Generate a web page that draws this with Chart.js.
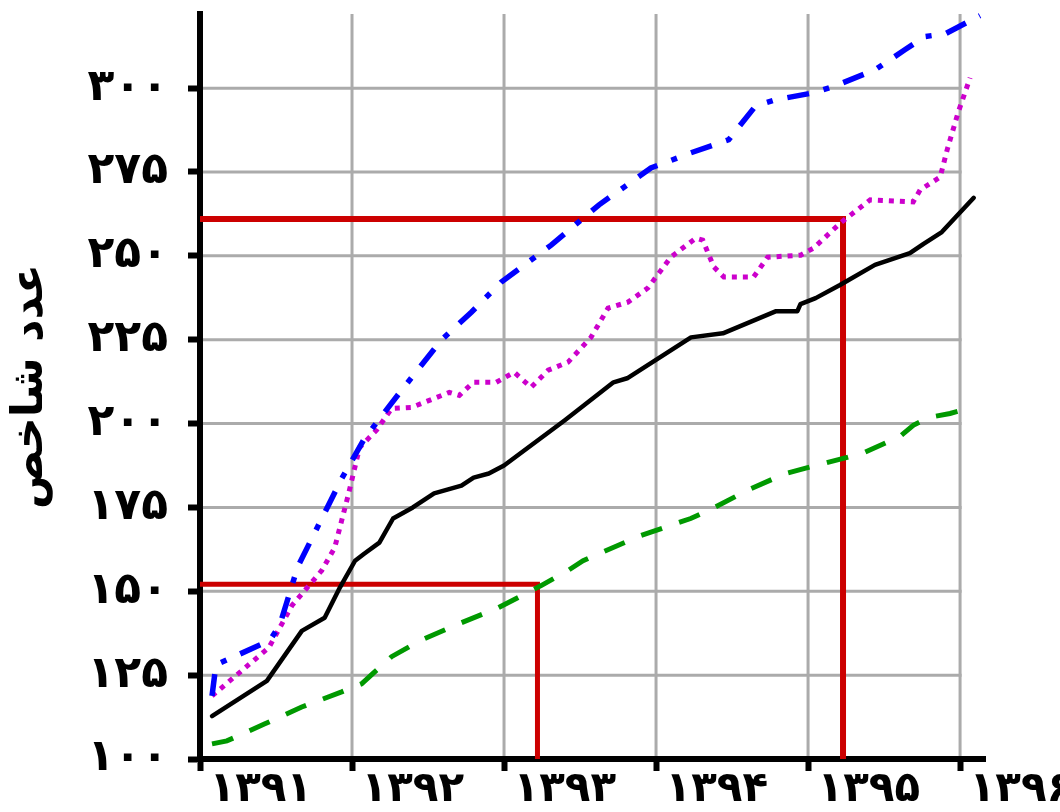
<!DOCTYPE html>
<html>
<head>
<meta charset="utf-8">
<script src="https://cdn.jsdelivr.net/npm/chart.js@4.4.1/dist/chart.umd.min.js"></script>
<style>
  html, body { margin: 0; padding: 0; background: #ffffff; }
  #wrap { width: 1060px; height: 812px; }
</style>
</head>
<body>
<div id="wrap"><canvas id="c" width="1060" height="812"></canvas></div>
<script>
// ---- tick labels ----
const xYears = [1391, 1392, 1393, 1394, 1395, 1396];
const xYearLabels = ['۱۳۹۱', '۱۳۹۲', '۱۳۹۳', '۱۳۹۴', '۱۳۹۵', '۱۳۹۶'];
const yTickValues = [100, 125, 150, 175, 200, 225, 250, 275, 300];
const yTickLabels = ['۱۰۰', '۱۲۵', '۱۵۰', '۱۷۵', '۲۰۰', '۲۲۵', '۲۵۰', '۲۷۵', '۳۰۰'];
const yTitle = 'عدد شاخص';

// ---- series (time in years, index value) ----
const blackYears = [1391.079, 1391.44, 1391.67, 1391.82, 1391.92, 1392.02, 1392.08, 1392.18, 1392.27, 1392.40, 1392.54, 1392.72, 1392.80, 1392.90, 1393.00, 1393.40, 1393.72, 1393.81, 1394.23, 1394.44, 1394.79, 1394.93, 1394.95, 1395.05, 1395.21, 1395.44, 1395.67, 1395.76, 1395.88, 1396.09];
const blackValues = [112.8, 123.3, 138.2, 142.1, 151.1, 159.1, 161.2, 164.5, 171.7, 175.0, 179.2, 181.5, 183.9, 185.1, 187.5, 201.0, 212.3, 213.5, 225.7, 226.9, 233.5, 233.5, 235.6, 237.4, 241.3, 247.3, 250.8, 253.6, 257.1, 267.3];

const blueYears = [1391.079, 1391.105, 1391.459, 1391.525, 1391.643, 1391.932, 1392.083, 1392.325, 1392.588, 1392.785, 1392.982, 1393.310, 1393.625, 1393.966, 1394.228, 1394.478, 1394.556, 1394.655, 1394.786, 1395.035, 1395.180, 1395.442, 1395.639, 1395.770, 1395.902, 1396.131];
const blueValues = [118.8, 128.1, 135.3, 140.0, 157.3, 183.6, 195.6, 209.9, 224.9, 233.2, 242.2, 253.2, 265.2, 276.2, 280.7, 284.6, 289.1, 294.7, 296.5, 298.6, 300.7, 305.5, 311.5, 315.4, 316.2, 321.6];

const magentaYears = [1391.079, 1391.453, 1391.604, 1391.801, 1391.886, 1391.978, 1392.050, 1392.161, 1392.260, 1392.391, 1392.640, 1392.706, 1392.798, 1392.949, 1393.067, 1393.178, 1393.290, 1393.421, 1393.572, 1393.684, 1393.815, 1393.946, 1394.097, 1394.262, 1394.307, 1394.380, 1394.446, 1394.642, 1394.734, 1394.951, 1395.036, 1395.213, 1395.409, 1395.692, 1395.738, 1395.869, 1395.915, 1395.987, 1396.066];
const magentaValues = [118.8, 133.2, 145.7, 156.2, 163.0, 179.2, 192.9, 198.0, 204.5, 204.8, 209.3, 208.4, 212.3, 212.3, 215.3, 210.8, 215.9, 218.3, 225.7, 234.4, 236.2, 240.4, 249.6, 255.3, 254.7, 246.7, 243.7, 243.7, 249.6, 250.2, 252.3, 259.8, 266.7, 266.1, 269.7, 273.5, 281.6, 292.7, 303.1];

const greenYears = [1391.079, 1391.177, 1391.427, 1391.669, 1391.932, 1392.063, 1392.142, 1392.260, 1392.457, 1392.719, 1392.962, 1393.244, 1393.421, 1393.520, 1393.638, 1393.900, 1394.228, 1394.373, 1394.609, 1394.852, 1395.101, 1395.357, 1395.606, 1395.692, 1395.803, 1395.934, 1396.079];
const greenValues = [104.5, 105.4, 110.5, 115.5, 120.0, 122.4, 125.7, 130.5, 135.5, 140.6, 145.1, 151.7, 156.2, 159.1, 161.5, 166.6, 171.7, 174.7, 180.3, 185.1, 188.1, 191.1, 196.2, 199.5, 201.9, 203.0, 204.8];

// red guide lines: [x-start, corner x], [level, axis base]
const guideHighYears = [1391, 1395.23, 1395.23];
const guideHighValues = [261.0, 261.0, 100];
const guideLowYears = [1391, 1393.22, 1393.22];
const guideLowValues = [152.1, 152.1, 100];

const X_MIN = 1391, X_MAX = 1396.164, Y_MIN = 100, Y_MAX = 322.1;

function pts(xs, ys) { return xs.map((x, i) => ({ x: x, y: ys[i] })); }

const FONT = "'DejaVu Sans', 'Noto Sans', sans-serif";

const gridPlugin = {
  id: 'gridPlugin',
  beforeDraw(chart) {
    const { ctx, chartArea } = chart;
    const xs = chart.scales.x, ys = chart.scales.y;
    ctx.save();
    ctx.strokeStyle = '#ababab';
    ctx.lineWidth = 3;
    const xl = xs.getPixelForValue(xYears[0]);
    const xr = xs.getPixelForValue(xYears[xYears.length - 1]);
    yTickValues.slice(1).forEach(v => {
      const y = ys.getPixelForValue(v);
      ctx.beginPath(); ctx.moveTo(xl, y); ctx.lineTo(xr + 1.5, y); ctx.stroke();
    });
    xYears.slice(1).forEach(v => {
      const x = xs.getPixelForValue(v);
      ctx.beginPath(); ctx.moveTo(x, chartArea.top); ctx.lineTo(x, chartArea.bottom); ctx.stroke();
    });
    ctx.restore();
  },
  afterDraw(chart) {
    const { ctx, chartArea } = chart;
    const xs = chart.scales.x;
    ctx.save();
    ctx.fillStyle = '#000';
    ctx.font = "bold 42px " + FONT;
    ctx.textAlign = 'center';
    ctx.textBaseline = 'alphabetic';
    xYearLabels.forEach((lab, i) => {
      const x = xs.getPixelForValue(xYears[i] + 0.4);
      ctx.fillText(lab, x, chartArea.bottom + 42);
    });
    ctx.restore();
  }
};

new Chart(document.getElementById('c'), {
  type: 'line',
  data: {
    datasets: [
      { data: pts(blackYears, blackValues), borderColor: '#000000', borderWidth: 4.5, borderJoinStyle: 'round', borderCapStyle: 'round' },
      { data: pts(blueYears, blueValues), borderColor: '#0000ff', borderWidth: 5.5, borderDash: [22, 15, 6, 15], borderCapStyle: 'butt' },
      { data: pts(magentaYears, magentaValues), borderColor: '#cc00cc', borderWidth: 5, borderDash: [5, 6], borderCapStyle: 'butt' },
      { data: pts(greenYears, greenValues), borderColor: '#009900', borderWidth: 5, borderDash: [22, 18], borderCapStyle: 'butt' },
      { data: pts(guideHighYears, guideHighValues), borderColor: '#cc0000', borderWidth: 6, borderJoinStyle: 'miter', borderCapStyle: 'butt' },
      { data: pts(guideLowYears, guideLowValues), borderColor: '#cc0000', borderWidth: 5, borderJoinStyle: 'miter', borderCapStyle: 'butt' }
    ].map(d => Object.assign({ pointRadius: 0, pointHoverRadius: 0, tension: 0, fill: false, clip: false }, d))
  },
  options: {
    responsive: false,
    animation: false,
    devicePixelRatio: 1,
    layout: { padding: { top: 14, right: 75, bottom: 0, left: 0 } },
    plugins: { legend: { display: false }, tooltip: { enabled: false } },
    events: [],
    scales: {
      x: {
        type: 'linear', min: X_MIN, max: X_MAX,
        afterBuildTicks: s => { s.ticks = xYears.map(v => ({ value: v })); },
        afterFit: s => { s.height = 53; s.paddingLeft = 0; s.paddingRight = 0; },
        ticks: { display: false },
        grid: { drawOnChartArea: false, drawTicks: true, tickLength: 12, tickWidth: 6, tickColor: '#000' },
        border: { display: true, color: '#000', width: 6 }
      },
      y: {
        type: 'linear', min: Y_MIN, max: Y_MAX,
        afterBuildTicks: s => { s.ticks = yTickValues.map(v => ({ value: v })); },
        afterFit: s => { s.width = 200; s.paddingTop = 0; s.paddingBottom = 0; },
        ticks: {
          color: '#000', padding: 20,
          font: { family: FONT, size: 44, weight: 'bold' },
          callback: (v, i) => yTickLabels[i]
        },
        grid: { drawOnChartArea: false, drawTicks: true, tickLength: 12, tickWidth: 6, tickColor: '#000' },
        border: { display: true, color: '#000', width: 6 },
        title: {
          display: true, text: yTitle, color: '#000',
          font: { family: FONT, size: 44, weight: 'bold' },
          padding: { top: 4, bottom: 0 }
        }
      }
    }
  },
  plugins: [gridPlugin]
});
</script>
</body>
</html>
